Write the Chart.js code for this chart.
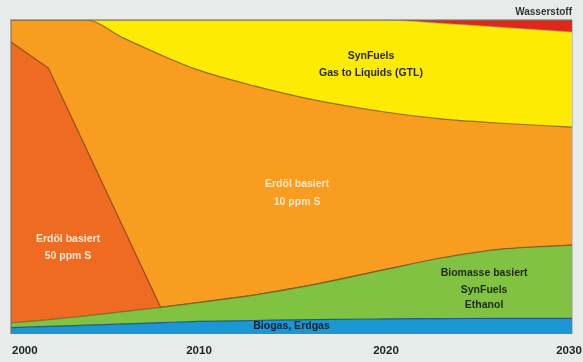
<!DOCTYPE html>
<html><head><meta charset="utf-8">
<script src="https://cdn.jsdelivr.net/npm/chart.js@4"></script>
<style>html,body{margin:0;padding:0;background:#e8ebe9;overflow:hidden}#wrap{width:583px;height:362px;position:relative}</style>
</head><body><div id="wrap"><canvas id="c" width="583" height="362"></canvas></div>
<script>
const years = [2000,2002,2004,2006,2008,2010,2013,2016,2020,2023,2026,2030];
const biogasErdgas = [2.0,2.4,2.8,3.2,3.6,4.0,4.3,4.6,4.8,4.9,5.0,5.0];
const biomasse = [1.5,2.2,3.0,3.9,4.9,6.0,8.1,10.9,15.7,19.3,21.9,23.3];
const erdoel50 = [89.5,80.1,53.5,26.8,0,0,0,0,0,0,0,0];
const erdoel10 = [7.0,15.3,40.7,60.4,80.4,74.1,66.6,59.3,50.2,44.3,40.3,37.6];
const synFuels = [0,0,0,5.7,11.1,15.9,21.0,25.2,29.3,30.5,30.6,30.3];
const wasserstoff = [0,0,0,0,0,0,0,0,0,1.0,2.2,3.8];
const xTicks = [2000,2010,2020,2030];

const seriesNames = ['Biogas, Erdgas','Biomasse basiert','Erdöl basiert 50 ppm S','Erdöl basiert 10 ppm S','SynFuels GTL','Wasserstoff'];
const seriesValues = [biogasErdgas, biomasse, erdoel50, erdoel10, synFuels, wasserstoff];
const fills = ['#1b97d3','#82c243','#f06b22','#f89d1f','#fdeb03','#e1271c'];
const borders = ['rgba(20,70,110,0.8)','rgba(110,90,30,0.75)','rgba(130,60,20,0.8)','rgba(120,90,20,0.8)','rgba(150,130,60,0.6)','rgba(150,130,60,0.6)'];
const tensions = ['monotone','monotone','default','monotone','monotone','monotone'];

// in-chart labels: [text lines, year, value, color]
const areaLabels = [
  [['SynFuels','Gas to Liquids (GTL)'], 2019.25, [88.5,83.1], '#2a2a10'],
  [['Erdöl basiert','10 ppm S'], 2015.3, [47.8,42.0], '#fde7c4'],
  [['Erdöl basiert','50 ppm S'], 2003.05, [30.3,24.8], '#fde7d0'],
  [['Biomasse basiert','SynFuels','Ethanol'], 2025.3, [19.4,14.0,9.2], '#1e2a10'],
  [['Biogas, Erdgas'], 2015.0, [2.6], '#102030']
];

const datasets = seriesValues.map((vals, k) => ({
  label: seriesNames[k],
  data: years.map((yr, i) => ({x: yr, y: vals[i]})),
  backgroundColor: fills[k],
  borderColor: borders[k],
  borderWidth: 1.2,
  pointRadius: 0,
  fill: k === 0 ? 'origin' : '-1',
  cubicInterpolationMode: tensions[k],
  tension: tensions[k] === 'default' ? 0 : 0.4
}));

const decor = {
  id: 'decor',
  afterDatasetsDraw(chart) {
    const {ctx, chartArea: a, scales} = chart;
    const xs = scales.x, ys = scales.y;
    ctx.save();
    // frame
    ctx.strokeStyle = 'rgba(110,110,90,0.7)';
    ctx.lineWidth = 1.5;
    ctx.beginPath();
    ctx.moveTo(a.left, a.bottom); ctx.lineTo(a.left, a.top); ctx.lineTo(a.right, a.top);
    ctx.stroke();
    ctx.strokeStyle = 'rgba(150,150,150,0.5)';
    ctx.lineWidth = 1;
    ctx.beginPath();
    ctx.moveTo(a.right + 0.5, a.top); ctx.lineTo(a.right + 0.5, a.bottom);
    ctx.stroke();
    // area labels
    ctx.font = 'bold 10.5px "Liberation Sans", Arial, sans-serif';
    ctx.textAlign = 'center';
    ctx.textBaseline = 'middle';
    areaLabels.forEach(([lines, yr, vals, col]) => {
      ctx.fillStyle = col;
      lines.forEach((t, i) => ctx.fillText(t, xs.getPixelForValue(yr), ys.getPixelForValue(vals[i])));
    });
    // Wasserstoff label above plot
    ctx.fillStyle = '#333';
    ctx.font = 'bold 10px "Liberation Sans", Arial, sans-serif';
    ctx.textAlign = 'right';
    ctx.fillText('Wasserstoff', a.right, a.top - 8);
    // x tick labels
    ctx.fillStyle = '#222';
    ctx.font = 'bold 11.5px "Liberation Sans", Arial, sans-serif';
    xTicks.forEach((t, i) => {
      ctx.textAlign = i === 0 ? 'left' : 'center';
      const off = i === 0 ? 1 : (i === xTicks.length - 1 ? -3 : 1);
      ctx.fillText(String(t), xs.getPixelForValue(t) + off, a.bottom + 17);
    });
    ctx.restore();
  }
};

new Chart(document.getElementById('c'), {
  type: 'line',
  data: {datasets},
  options: {
    responsive: false,
    animation: false,
    layout: {padding: {left: 11, right: 11, top: 20, bottom: 28}},
    plugins: {legend: {display: false}, tooltip: {enabled: false}},
    scales: {
      x: {type: 'linear', min: 2000, max: 2030, display: false,
          ticks: {stepSize: 10}},
      y: {stacked: true, min: 0, max: 100, display: false}
    }
  },
  plugins: [decor]
});
</script>
</body></html>
